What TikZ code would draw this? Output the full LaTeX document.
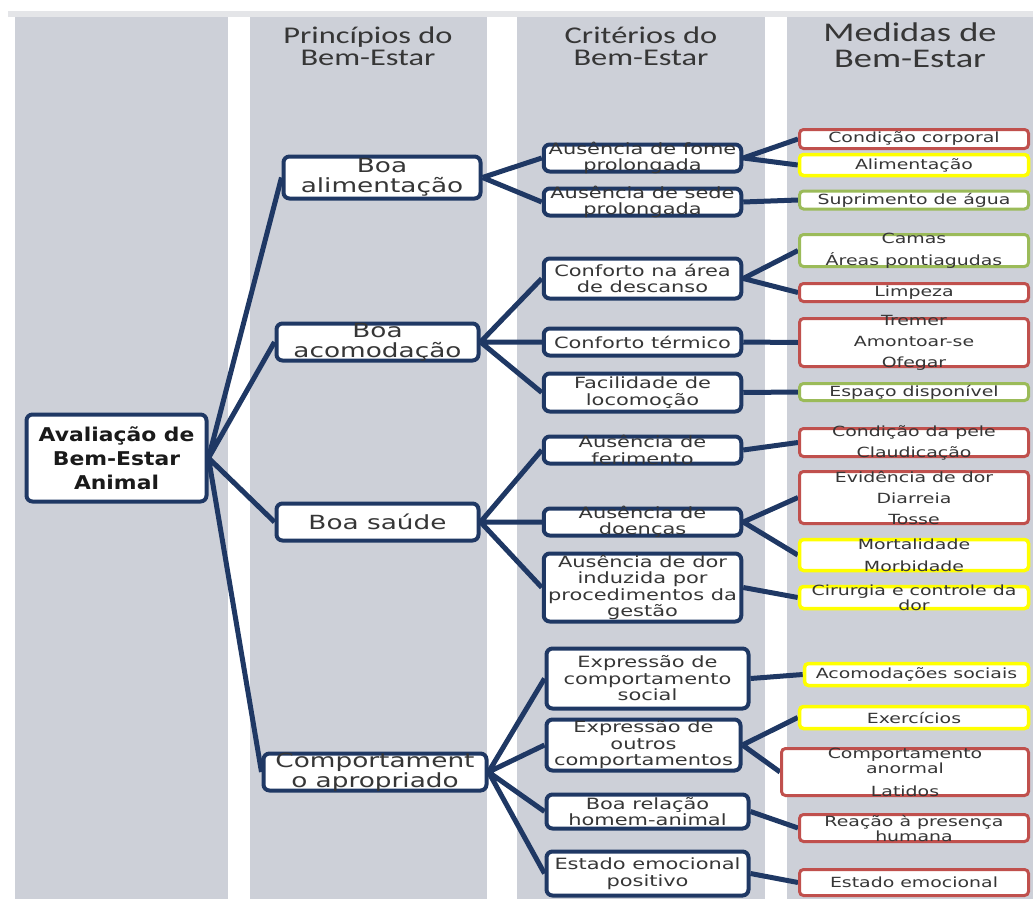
\documentclass[tikz,border=0pt]{standalone}
\usepackage{fontspec}
\usepackage{xcolor}
\usepackage{tikz}
\usetikzlibrary{backgrounds}
\newfontfamily\boxfont{DejaVu Sans}[FakeStretch=1.35]
\newfontfamily\rootfont{DejaVu Sans}[FakeStretch=1.15]
\newfontfamily\headfont{Carlito}[FakeStretch=1.35]
\definecolor{welfnavy}{HTML}{1F3864}
\definecolor{welfcol}{HTML}{CDD0D8}
\definecolor{welfband}{HTML}{E4E5E8}
\definecolor{welfred}{HTML}{C0504D}
\definecolor{welfyellow}{HTML}{FFFF00}
\definecolor{welfgreen}{HTML}{9BBB59}
\definecolor{welftext}{HTML}{363636}
\definecolor{welfdark}{HTML}{1A1A1A}

\begin{document}
\begin{tikzpicture}[
    x=1pt, y=-1pt,
    box/.style={rectangle, draw=welfnavy, line width=4pt, rounded corners=6pt, fill=white, inner sep=0pt},
    prin/.style={box, minimum height=37pt},
    crit/.style={box, minimum width=197.5pt},
    meas/.style={box, line width=3pt, rounded corners=4pt, minimum width=229pt},
    rootlab/.style={font=\rootfont\bfseries\fontsize{19}{24}\selectfont, text=welfdark, align=center},
    prinlab/.style={font=\boxfont\fontsize{19.5}{20}\selectfont, text=welftext, align=center},
    critlab/.style={font=\boxfont\fontsize{15.5}{16.5}\selectfont, text=welftext, align=center},
    measlab/.style={font=\boxfont\fontsize{14}{15}\selectfont, text=welftext, align=center},
    head/.style={font=\headfont\fontsize{24}{22}\selectfont, text=welftext, align=center},
    conn/.style={draw=welfnavy, line width=5pt}
]
\useasboundingbox (0,0) rectangle (1033,899);

% Columns
\begin{scope}[on background layer]
\fill[welfband] (8,11) rectangle (1033,17);
\fill[welfcol] (15,17) rectangle (228,899);
\fill[welfcol] (250,17) rectangle (487,899);
\fill[welfcol] (517,17) rectangle (765,899);
\fill[welfcol] (787,17) rectangle (1033,899);
\end{scope}

% Headers
\node[head] (headprin) at (368,46) {Princípios do\\Bem-Estar};
\node[head] (headcrit) at (641,46) {Critérios do\\Bem-Estar};
\node[head, font=\headfont\fontsize{27}{26}\selectfont] (headmeas) at (910,45) {Medidas de\\Bem-Estar};

% Root and principles
\node[box, minimum width=180pt, minimum height=87pt, label={[rootlab]center:{Avaliação de\\Bem-Estar\\Animal}}] (root) at (116.5,458) {};
\node[prin, minimum width=197pt, minimum height=42pt, label={[prinlab]center:{Boa\\alimentação}}] (alim) at (382,177.5) {};
\node[prin, minimum width=202pt, label={[prinlab]center:{Boa\\acomodação}}] (acom) at (377.5,342) {};
\node[prin, minimum width=202pt, label={[prinlab]center:{Boa saúde}}] (saude) at (377.5,522) {};
\node[prin, minimum width=223pt, label={[prinlab]center:{Comportament\\o apropriado}}] (comp) at (375,772) {};

% Criteria
\node[crit, minimum height=27pt, label={[critlab]center:{Ausência de fome\\prolongada}}] (fome) at (642.5,158) {};
\node[crit, minimum height=27pt, label={[critlab]center:{Ausência de sede\\prolongada}}] (sede) at (642.5,202) {};
\node[crit, minimum height=40pt, label={[critlab]center:{Conforto na área\\de descanso}}] (descanso) at (642.5,278.5) {};
\node[crit, minimum height=27pt, label={[critlab]center:{Conforto térmico}}] (termico) at (642.5,342) {};
\node[crit, minimum height=38pt, label={[critlab]center:{Facilidade de\\locomoção}}] (locomocao) at (642.5,392.5) {};
\node[crit, minimum height=27pt, label={[critlab]center:{Ausência de\\ferimento}}] (ferimento) at (642.5,450) {};
\node[crit, minimum height=27pt, label={[critlab]center:{Ausência de\\doenças}}] (doencas) at (642.5,522) {};
\node[crit, minimum height=68pt, label={[critlab]center:{Ausência de dor\\induzida por\\procedimentos da\\gestão}}] (dor) at (642.5,587.5) {};
\node[crit, minimum width=202pt, minimum height=60pt, label={[critlab]center:{Expressão de\\comportamento\\social}}] (social) at (647.5,678.5) {};
\node[crit, minimum width=194pt, minimum height=51pt, label={[critlab]center:{Expressão de\\outros\\comportamentos}}] (outros) at (643.5,745) {};
\node[crit, minimum width=202pt, minimum height=34pt, label={[critlab]center:{Boa relação\\homem-animal}}] (relacao) at (647.5,811.5) {};
\node[crit, minimum width=202pt, minimum height=44pt, label={[critlab]center:{Estado emocional\\positivo}}] (emocional) at (647.5,873.5) {};

% Measures
\node[meas, draw=welfred, minimum height=19pt, label={[measlab]center:{Condição corporal}}] (corporal) at (914,139) {};
\node[meas, draw=welfyellow, line width=3.5pt, minimum height=21pt, label={[measlab]center:{Alimentação}}] (alimentacao) at (914,165) {};
\node[meas, draw=welfgreen, minimum height=18pt, label={[measlab]center:{Suprimento de água}}] (agua) at (914,200) {};
\node[meas, draw=welfgreen, minimum height=32pt, label={[measlab]center:{Camas\\[7pt]Áreas pontiagudas}}] (camas) at (914,250.5) {};
\node[meas, draw=welfred, minimum height=18pt, label={[measlab]center:{Limpeza}}] (limpeza) at (914,292.5) {};
\node[meas, draw=welfred, minimum height=48pt, label={[measlab]center:{Tremer\\[6pt]Amontoar-se\\[6pt]Ofegar}}] (tremer) at (914,342.5) {};
\node[meas, draw=welfgreen, minimum height=17pt, label={[measlab]center:{Espaço disponível}}] (espaco) at (914,392) {};
\node[meas, draw=welfred, minimum height=28pt, label={[measlab]center:{Condição da pele\\[6pt]Claudicação}}] (pele) at (914,442.5) {};
\node[meas, draw=welfred, minimum height=52pt, label={[measlab]center:{Evidência de dor\\[6pt]Diarreia\\[6pt]Tosse}}] (evidencia) at (914,497.5) {};
\node[meas, draw=welfyellow, line width=3.5pt, minimum height=31pt, label={[measlab]center:{Mortalidade\\[7pt]Morbidade}}] (mortalidade) at (914,555) {};
\node[meas, draw=welfyellow, line width=3.5pt, minimum height=22pt, label={[measlab]center:{Cirurgia e controle da\\dor}}] (cirurgia) at (914,597.5) {};
\node[meas, draw=welfyellow, line width=3.5pt, minimum width=224pt, minimum height=22pt, label={[measlab]center:{Acomodações sociais}}] (acomodacoes) at (916.5,674.5) {};
\node[meas, draw=welfyellow, line width=3.5pt, minimum height=22pt, label={[measlab]center:{Exercícios}}] (exercicios) at (914,717.5) {};
\node[meas, draw=welfred, minimum width=247pt, minimum height=47pt, label={[measlab]center:{Comportamento\\anormal\\[8pt]Latidos}}] (anormal) at (905,772) {};
\node[meas, draw=welfred, minimum height=27pt, label={[measlab]center:{Reação à presença\\humana}}] (reacao) at (914,828) {};
\node[meas, draw=welfred, minimum height=26pt, label={[measlab]center:{Estado emocional}}] (estado) at (914,882.5) {};

% Connectors
\begin{scope}[on background layer]
\draw[conn] (root.east) -- (alim.west) (root.east) -- (acom.west)
  (root.east) -- (saude.west) (root.east) -- (comp.west);
\draw[conn] (alim.east) -- (fome.west) (alim.east) -- (sede.west);
\draw[conn] (acom.east) -- (descanso.west) (acom.east) -- (termico.west) (acom.east) -- (locomocao.west);
\draw[conn] (saude.east) -- (ferimento.west) (saude.east) -- (doencas.west) (saude.east) -- (dor.west);
\draw[conn] (comp.east) -- (social.west) (comp.east) -- (outros.west)
  (comp.east) -- (relacao.west) (comp.east) -- (emocional.west);
\draw[conn] (fome.east) -- (corporal.west) (fome.east) -- (alimentacao.west);
\draw[conn] (sede.east) -- (agua.west);
\draw[conn] (descanso.east) -- (camas.west) (descanso.east) -- (limpeza.west);
\draw[conn] (termico.east) -- (tremer.west);
\draw[conn] (locomocao.east) -- (espaco.west);
\draw[conn] (ferimento.east) -- (pele.west);
\draw[conn] (doencas.east) -- (evidencia.west) (doencas.east) -- (mortalidade.west);
\draw[conn] (dor.east) -- (cirurgia.west);
\draw[conn] (social.east) -- (acomodacoes.west);
\draw[conn] (outros.east) -- (exercicios.west) (outros.east) -- (anormal.west);
\draw[conn] (relacao.east) -- (reacao.west);
\draw[conn] (emocional.east) -- (estado.west);
\end{scope}
\end{tikzpicture}
\end{document}
